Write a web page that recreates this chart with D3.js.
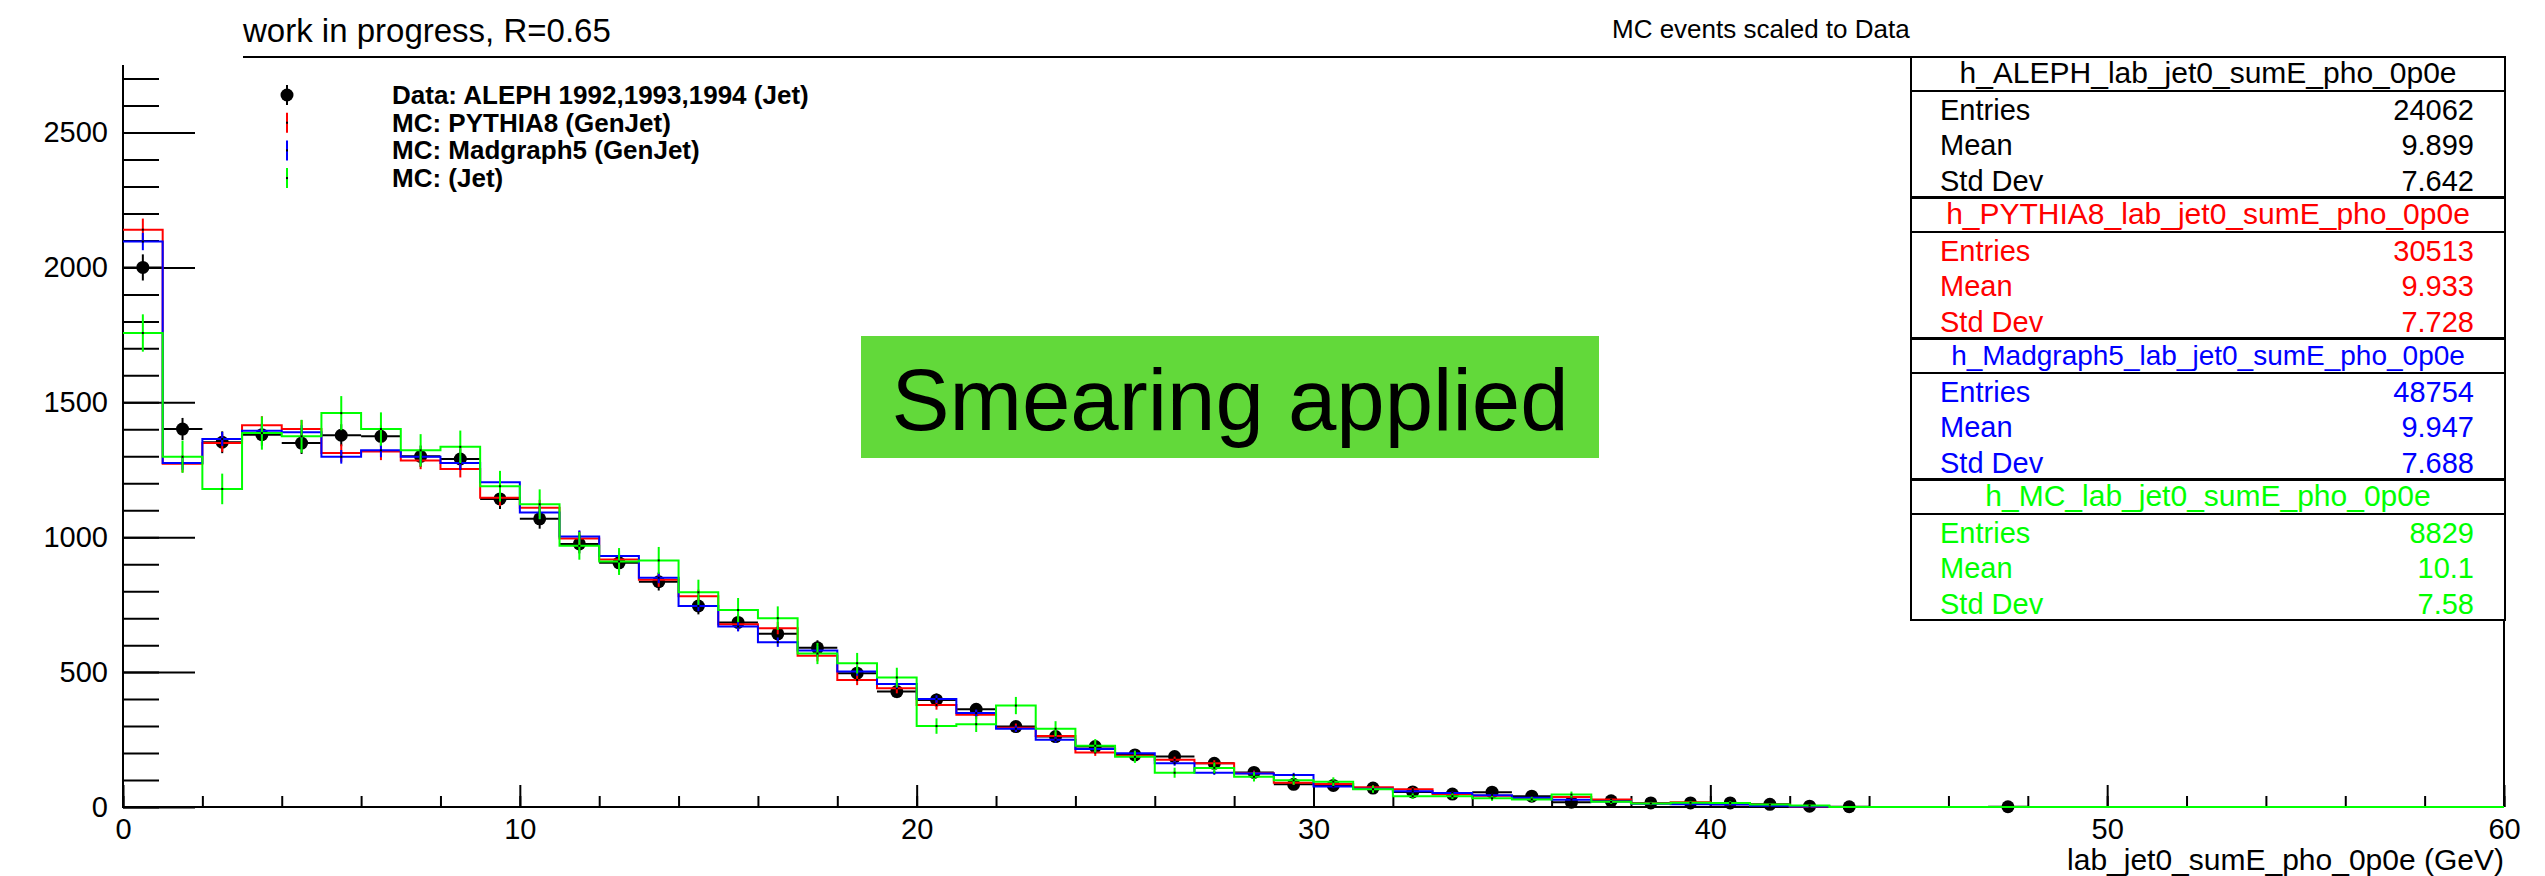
<!DOCTYPE html>
<html>
<head>
<meta charset="utf-8">
<script src="https://cdn.jsdelivr.net/npm/d3@7"></script>
<style>
  html, body { margin: 0; padding: 0; background: #fff; }
  svg { display: block; font-family: "Liberation Sans", Arial, Helvetica, sans-serif; }
</style>
</head>
<body>
<svg id="chart" width="2545" height="876"></svg>
<script>
// ---- histogram binning: 60 bins of 1 GeV from 0 to 60 ----
const xMin = 0, xMax = 60, yMax = 2780;
const binLow = d3.range(xMin, xMax);

// ---- bin contents (MC scaled to data) ----
const dataALEPH = [
  2000, 1401, 1352, 1380, 1349, 1378, 1374, 1300, 1290, 1142,
  1068,  975,  905,  835,  745,  684,  642,  590,  496,  428,
   397,  362,  298,  261,  224,  193,  187,  162,  128,   84,
    80,   70,   56,   48,   55,   40,   18,   23,   15,   15,
    15,   10,    3,    1,    0,    0,    0,    1,    0,    0,
     0,    0,    0,    0,    0,    0,    0,    0,    0,    0
];
const mcPythia8 = [
  2140, 1272, 1349, 1415, 1401, 1312, 1318, 1284, 1253, 1146,
  1109,  995,  917,  842,  781,  677,  663,  561,  471,  440,
   378,  342,  294,  263,  202,  190,  175,  162,  125,   90,
    85,   73,   66,   47,   42,   33,   37,   28,   14,   18,
    10,    8,    1,    0,    0,    0,    0,    0,    0,    0,
     0,    0,    0,    0,    0,    0,    0,    0,    0,    0
];
const mcMadgraph5 = [
  2096, 1275, 1364, 1395, 1389, 1298, 1322, 1298, 1275, 1204,
  1092, 1003,  930,  850,  745,  669,  611,  580,  502,  456,
   400,  348,  290,  249,  215,  199,  162,  127,  124,  119,
    76,   68,   58,   52,   44,   34,   27,   20,   12,   10,
     9,    5,    2,    0,    0,    0,    0,    0,    0,    0,
     0,    0,    0,    0,    0,    0,    0,    0,    0,    0
];
const mcJet = [
  1757, 1298, 1179, 1386, 1374, 1460, 1401, 1322, 1335, 1189,
  1122,  968,  910,  914,  796,  730,  700,  569,  533,  480,
   300,  307,  376,  290,  227,  186,  127,  145,  112,   99,
    94,   66,   40,   40,   32,   28,   46,   19,   13,   16,
    15,    9,    6,    0,    0,    0,    0,    0,    0,    0,
     0,    0,    0,    0,    0,    0,    0,    0,    0,    0
];

// ---- statistics boxes ----
const statsNames   = ["h_ALEPH_lab_jet0_sumE_pho_0p0e", "h_PYTHIA8_lab_jet0_sumE_pho_0p0e",
                      "h_Madgraph5_lab_jet0_sumE_pho_0p0e", "h_MC_lab_jet0_sumE_pho_0p0e"];
const statsEntries = [24062, 30513, 48754, 8829];
const statsMean    = ["9.899", "9.933", "9.947", "10.1"];
const statsStdDev  = ["7.642", "7.728", "7.688", "7.58"];
const seriesColors = ["#000000", "#ff0000", "#0000ff", "#00ff00"];
const legendLabels = ["Data: ALEPH 1992,1993,1994 (Jet)", "MC: PYTHIA8 (GenJet)",
                      "MC: Madgraph5 (GenJet)", "MC: (Jet)"];

// ---- axis ticks ----
const xMajorTicks = [0, 10, 20, 30, 40, 50, 60];
const xMinorTicks = d3.range(0, 61, 2);
const yMajorTicks = [0, 500, 1000, 1500, 2000, 2500];
const yMinorTicks = d3.range(0, 2701, 100);
const yAxisTop = 2750;

// ---- geometry ----
const L = 123, R = 2504, T = 57, B = 807;
const svg = d3.select("#chart");
const x = d3.scaleLinear().domain([xMin, xMax]).range([L, R]);
const y = d3.scaleLinear().domain([0, yMax]).range([B, T]);

// title and header
svg.append("text").attr("x", 243).attr("y", 42).attr("font-size", 33)
  .text("work in progress, R=0.65");
svg.append("text").attr("x", 1612).attr("y", 38).attr("font-size", 26)
  .text("MC events scaled to Data");

// frame lines
const frame = svg.append("g").attr("stroke", "#000").attr("stroke-width", 2);
frame.append("line").attr("x1", 243).attr("x2", R + 1).attr("y1", T).attr("y2", T);
frame.append("line").attr("x1", R).attr("x2", R).attr("y1", T).attr("y2", B);
frame.append("line").attr("x1", L).attr("x2", L).attr("y1", y(yAxisTop)).attr("y2", B + 1);
frame.append("line").attr("x1", L).attr("x2", R).attr("y1", B).attr("y2", B);

// y axis ticks (pointing into the frame)
const yMinorAxis = d3.axisLeft(y).tickValues(yMinorTicks).tickSize(-36).tickFormat("");
const yMajorAxis = d3.axisLeft(y).tickValues(yMajorTicks).tickSizeInner(-72).tickSizeOuter(0)
  .tickPadding(15).tickFormat(d3.format("d"));
svg.append("g").attr("transform", `translate(${L},0)`).call(yMinorAxis)
  .call(g => g.select(".domain").remove())
  .call(g => g.selectAll("line").attr("stroke-width", 2));
svg.append("g").attr("transform", `translate(${L},0)`).call(yMajorAxis)
  .call(g => g.select(".domain").remove())
  .call(g => g.selectAll("line").attr("stroke-width", 2))
  .call(g => g.selectAll("text").attr("font-size", 29).attr("fill", "#000")
    .attr("font-family", "Liberation Sans, Arial, sans-serif"));

// x axis ticks
const xMinorAxis = d3.axisBottom(x).tickValues(xMinorTicks).tickSize(-11).tickFormat("");
const xMajorAxis = d3.axisBottom(x).tickValues(xMajorTicks).tickSizeInner(-22).tickSizeOuter(0)
  .tickPadding(11).tickFormat(d3.format("d"));
svg.append("g").attr("transform", `translate(0,${B})`).call(xMinorAxis)
  .call(g => g.select(".domain").remove())
  .call(g => g.selectAll("line").attr("stroke-width", 2));
svg.append("g").attr("transform", `translate(0,${B})`).call(xMajorAxis)
  .call(g => g.select(".domain").remove())
  .call(g => g.selectAll("line").attr("stroke-width", 2))
  .call(g => g.selectAll("text").attr("font-size", 29).attr("fill", "#000")
    .attr("font-family", "Liberation Sans, Arial, sans-serif"));

svg.append("text").attr("x", R).attr("y", 870).attr("text-anchor", "end").attr("font-size", 30)
  .text("lab_jet0_sumE_pho_0p0e (GeV)");

// ---- histograms ----
const plot = svg.append("g");
const stepLine = d3.line().x(d => x(d[0])).y(d => y(d[1])).curve(d3.curveStepAfter);
const centre = b => x(b + 0.5);

// data: points with x/y error bars (Poisson errors)
const dataG = plot.append("g");
binLow.forEach((b, i) => {
  const v = dataALEPH[i];
  if (v <= 0) return;
  const e = Math.sqrt(v);
  dataG.append("line").attr("x1", x(b)).attr("x2", x(b + 1)).attr("y1", y(v)).attr("y2", y(v))
    .attr("stroke", "#000").attr("stroke-width", 2);
  dataG.append("line").attr("x1", centre(b)).attr("x2", centre(b)).attr("y1", y(v - e) + 1)
    .attr("y2", y(v + e) - 1).attr("stroke", "#000").attr("stroke-width", 2);
  dataG.append("circle").attr("cx", centre(b)).attr("cy", y(v)).attr("r", 6.5).attr("fill", "#000");
});

// MC: step outlines with error bars, errors from unscaled counts
const mcSeries = [
  { values: mcPythia8,   color: seriesColors[1], weight: statsEntries[0] / statsEntries[1] },
  { values: mcMadgraph5, color: seriesColors[2], weight: statsEntries[0] / statsEntries[2] },
  { values: mcJet,       color: seriesColors[3], weight: statsEntries[0] / statsEntries[3] }
];
mcSeries.forEach(s => {
  const g = plot.append("g");
  const pts = binLow.map((b, i) => [b, s.values[i]]);
  pts.push([xMax, s.values[s.values.length - 1]]);
  g.append("path").attr("d", stepLine(pts)).attr("fill", "none")
    .attr("stroke", s.color).attr("stroke-width", 2);
  binLow.forEach((b, i) => {
    const v = s.values[i];
    if (v <= 0) return;
    const e = Math.sqrt(v * s.weight);
    g.append("line").attr("x1", centre(b)).attr("x2", centre(b))
      .attr("y1", y(v - e)).attr("y2", y(v + e)).attr("stroke", s.color).attr("stroke-width", 2);
    g.append("rect").attr("x", centre(b) - 1).attr("y", y(v) - 1).attr("width", 2).attr("height", 2)
      .attr("fill", "#000");
  });
});

// ---- legend ----
const legend = svg.append("g");
legendLabels.forEach((label, i) => {
  const base = 104 + i * 27.7;
  const cy = base - 9;
  const c = seriesColors[i];
  legend.append("line").attr("x1", 287).attr("x2", 287).attr("y1", cy - 10).attr("y2", cy + 10)
    .attr("stroke", c).attr("stroke-width", 2);
  if (i === 0) {
    legend.append("circle").attr("cx", 287).attr("cy", cy).attr("r", 6.5).attr("fill", "#000");
  } else {
    legend.append("rect").attr("x", 286).attr("y", cy - 1).attr("width", 2).attr("height", 2).attr("fill", "#000");
  }
  legend.append("text").attr("x", 392).attr("y", base).attr("font-size", 26).attr("font-weight", "bold")
    .text(label);
});

// ---- annotation box ----
svg.append("rect").attr("x", 861).attr("y", 336).attr("width", 738).attr("height", 122).attr("fill", "#62d93a");
svg.append("text").attr("x", 1230).attr("y", 430).attr("text-anchor", "middle").attr("font-size", 87)
  .text("Smearing applied");

// ---- statistics boxes ----
const boxX = 1911, boxW = 594, boxH = 140, boxStep = 141, titleH = 34;
const titleSizes = [30, 30, 28, 30];
statsNames.forEach((name, i) => {
  const top = T + i * boxStep;
  const c = seriesColors[i];
  const g = svg.append("g");
  g.append("rect").attr("x", boxX).attr("y", top).attr("width", boxW).attr("height", boxH)
    .attr("fill", "#fff").attr("stroke", "#000").attr("stroke-width", 2);
  g.append("line").attr("x1", boxX).attr("x2", boxX + boxW).attr("y1", top + titleH).attr("y2", top + titleH)
    .attr("stroke", "#000").attr("stroke-width", 2);
  g.append("text").attr("x", boxX + boxW / 2).attr("y", top + 26).attr("text-anchor", "middle")
    .attr("font-size", titleSizes[i]).attr("fill", c).text(name);
  const rows = [["Entries", String(statsEntries[i])], ["Mean", statsMean[i]], ["Std Dev", statsStdDev[i]]];
  const rowBase = [63, 98, 134];
  rows.forEach((r, k) => {
    g.append("text").attr("x", 1940).attr("y", top + rowBase[k]).attr("font-size", 29).attr("fill", c).text(r[0]);
    g.append("text").attr("x", 2474).attr("y", top + rowBase[k]).attr("font-size", 29).attr("fill", c)
      .attr("text-anchor", "end").text(r[1]);
  });
});
</script>
</body>
</html>
